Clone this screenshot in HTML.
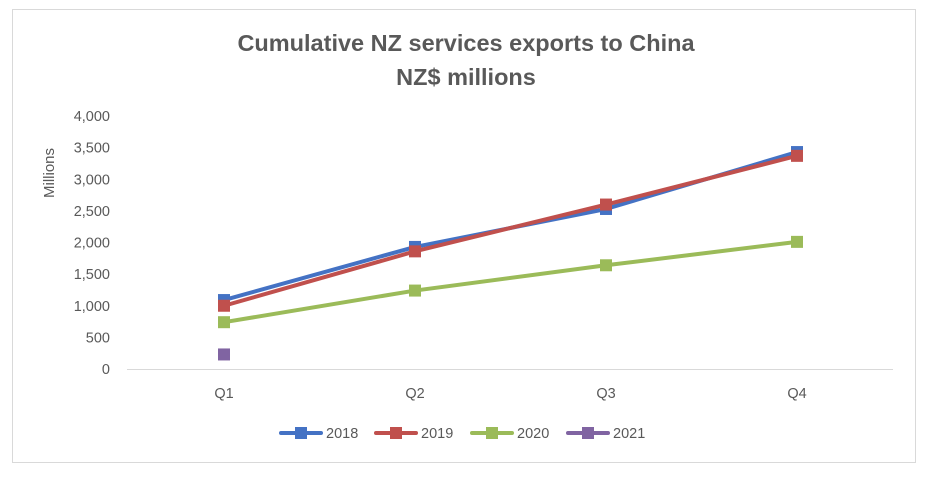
<!DOCTYPE html>
<html><head><meta charset="utf-8"><style>
body{margin:0;background:#fff;width:926px;height:476px;overflow:hidden}
svg text{font-family:"Liberation Sans",sans-serif;fill:#595959}
</style></head><body>
<svg id="chart" width="926" height="476" xmlns="http://www.w3.org/2000/svg">
<rect x="12.5" y="9.5" width="903" height="453" fill="#fff" stroke="#d9d9d9"/>
<text x="466" y="51" font-size="23.5" font-weight="bold" text-anchor="middle">Cumulative NZ services exports to China</text>
<text x="466" y="85" font-size="23.5" font-weight="bold" text-anchor="middle">NZ$ millions</text>
<text transform="translate(54,173) rotate(-90)" font-size="15" text-anchor="middle">Millions</text>
<g id="yticks"></g><g id="xticks"></g><g id="series"></g><g id="legend"></g>
<line x1="127" y1="369.5" x2="893" y2="369.5" stroke="#d9d9d9"/>
</svg>
<script>
const categories=["Q1","Q2","Q3","Q4"];
const yTicks=[0,500,1000,1500,2000,2500,3000,3500,4000];
const seriesNames=["2018","2019","2020","2021"];
const colors=["#4472c4","#c0504d","#9bbb59","#8064a2"];
const v2018=[1090,1930,2530,3430];
const v2019=[1000,1860,2600,3370];
const v2020=[740,1240,1640,2010];
const v2021=[230,null,null,null];
const values=[v2018,v2019,v2020,v2021];
const ns="http://www.w3.org/2000/svg";
const y=v=>369-v*(253/4000);
const x=i=>224+i*191;
function mk(t,p){const e=document.createElementNS(ns,t);p.appendChild(e);return e;}
const yt=document.getElementById('yticks');
yTicks.forEach(t=>{const e=mk('text',yt);


e.setAttribute('x',110);e.setAttribute('y',y(t)+5);e.setAttribute('font-size','14.5');e.setAttribute('text-anchor','end');
e.textContent=t.toLocaleString('en-US');});
const xt=document.getElementById('xticks');
categories.forEach((c,i)=>{const e=mk('text',xt);


e.setAttribute('x',x(i));e.setAttribute('y',398);e.setAttribute('font-size','14.5');e.setAttribute('text-anchor','middle');
e.textContent=c;});
const sg=document.getElementById('series');
values.forEach((vals,s)=>{const g=mk('g',sg);


const pts=vals.map((v,i)=>v==null?null:[x(i),y(v)]).filter(p=>p);
if(pts.length>1){const pl=mk('polyline',g);


pl.setAttribute('points',pts.map(p=>p.join(',')).join(' '));
pl.setAttribute('fill','none');pl.setAttribute('stroke',colors[s]);pl.setAttribute('stroke-width','4');pl.setAttribute('stroke-linejoin','round');}
pts.forEach(p=>{const r=mk('rect',g);


r.setAttribute('x',p[0]-6);r.setAttribute('y',p[1]-6);r.setAttribute('width',12);r.setAttribute('height',12);r.setAttribute('fill',colors[s]);});});
const lg=document.getElementById('legend');
const lx=[281,376,472,568];
seriesNames.forEach((n,s)=>{const g=mk('g',lg);


const l=mk('line',g);l.setAttribute('x1',lx[s]);l.setAttribute('x2',lx[s]+40);l.setAttribute('y1',433);l.setAttribute('y2',433);l.setAttribute('stroke',colors[s]);l.setAttribute('stroke-width','4');l.setAttribute('stroke-linecap','round');
const r=mk('rect',g);r.setAttribute('x',lx[s]+14);r.setAttribute('y',427);r.setAttribute('width',12);r.setAttribute('height',12);r.setAttribute('fill',colors[s]);
const t=mk('text',g);t.setAttribute('x',lx[s]+45);t.setAttribute('y',438);t.setAttribute('font-size','14.5');t.textContent=n;});
</script>
</body></html>
